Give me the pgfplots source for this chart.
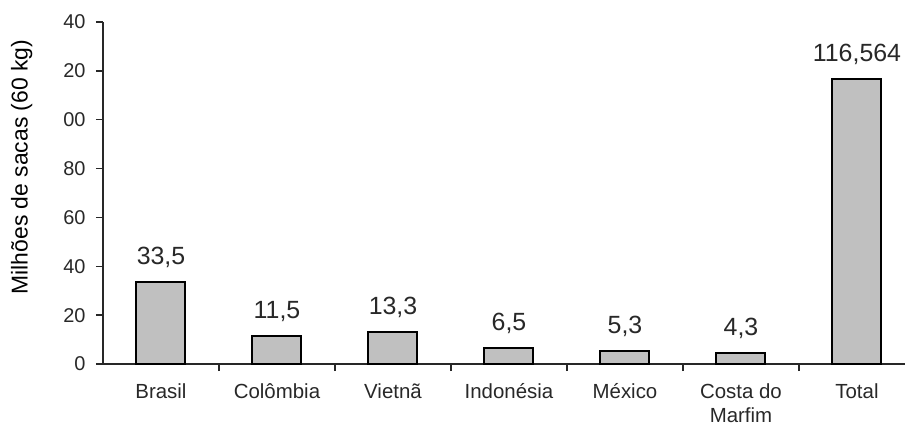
\documentclass[border=0pt]{standalone}
\usepackage{pgfplots}
\pgfplotsset{compat=1.18}
\usepackage{pgfplotstable}
\usepackage{fontspec}
\setmainfont{Liberation Sans}
\definecolor{bargray}{RGB}{192,192,192}
\definecolor{axgray}{RGB}{40,40,40}
\pgfplotstableread{
x y lab
0 33.5 33,5
1 11.5 11,5
2 13.3 13,3
3 6.5 6,5
4 5.3 5,3
5 4.3 4,3
6 116.564 116,564
}\data
\begin{document}
\begin{tikzpicture}
\useasboundingbox (-103bp,-66bp) rectangle (802bp,364bp);
\begin{axis}[
  scale only axis,
  width=802bp, height=342bp,
  xmin=-0.5, xmax=6.414,
  ymin=0, ymax=140,
  axis x line*=bottom,
  axis y line*=left,
  axis line style={axgray, line width=1.6bp, -},
  xtick={0,...,6},
  xticklabels={Brasil, Colômbia, Vietnã, Indonésia, México, {Costa do\\Marfim}, Total},
  major x tick style={draw=none},
  minor xtick={0.5,1.5,2.5,3.5,4.5,5.5},
  minor x tick style={axgray, line width=1.4bp},
  minor tick length=7bp,
  ytick={0,20,...,140},
  yticklabels={0,20,40,60,80,00,20,40},
  major y tick style={axgray, line width=1.4bp},
  major tick length=7bp,
  tick align=outside,
  xticklabel style={font=\fontsize{20.5}{24}\selectfont, align=center, text=axgray, yshift=-9bp},
  yticklabel style={font=\fontsize{20}{22}\selectfont, text=axgray, xshift=-7bp},
  ylabel={Milhões de sacas (60 kg)},
  ylabel style={font=\fontsize{23}{26}\selectfont, at={(axis description cs:-0.1015,0.576)}, anchor=center, rotate=0},
  /pgf/number format/assume math mode=true,
  nodes near coords,
  point meta=explicit symbolic,
  every node near coord/.append style={font=\fontsize{25}{27}\selectfont, text=axgray, anchor=south, yshift=10bp},
  clip=false,
  ybar, bar width=49bp,
]
\addplot[fill=bargray, draw=black, line width=2bp] table[x=x, y=y, meta=lab] {\data};
\end{axis}
\end{tikzpicture}
\end{document}
